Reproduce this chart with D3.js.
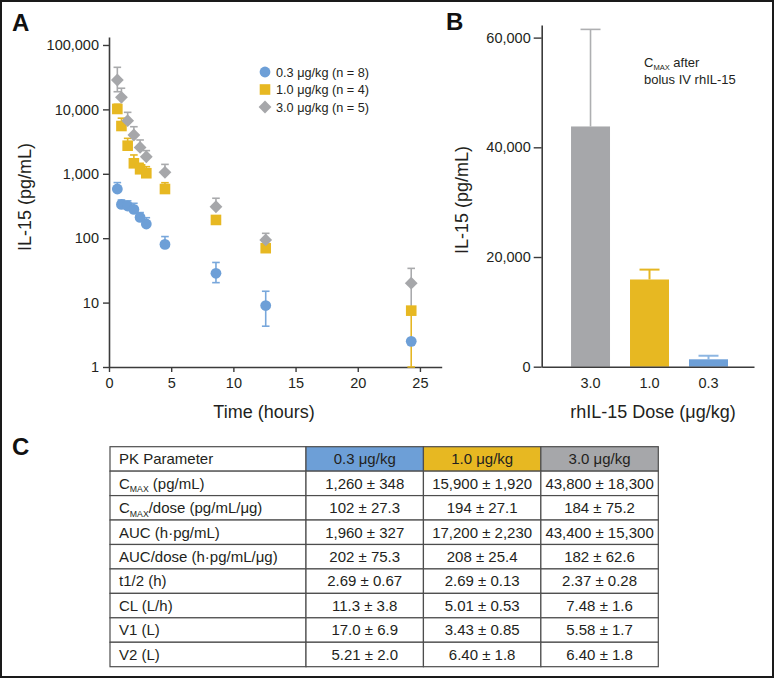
<!DOCTYPE html>
<html><head><meta charset="utf-8">
<script src="https://cdn.jsdelivr.net/npm/d3@7"></script>
<style>
body{margin:0;background:#fff}
svg{display:block;font-family:"Liberation Sans",Arial,Helvetica,sans-serif}
</style>
</head><body>
<svg id="c" width="775" height="680"></svg>
<script>
// ---------- Panel A data ----------
const times = [0.67, 1, 1.5, 2, 2.5, 3, 4.5, 8.6, 12.6, 24.3];
const seriesNames = ["0.3 μg/kg (n = 8)", "1.0 μg/kg (n = 4)", "3.0 μg/kg (n = 5)"];
const mean03 = [580, 335, 316, 280, 210, 166, 80, 28.5, 9, 2.5];
const upper03 = [730, 392, 380, 348, 250, 208, 106, 42, 15, null];
const lower03 = [null, null, null, null, null, null, null, 20.4, 4.3, null];
const mean10 = [10150, 5520, 2730, 1455, 1175, 1020, 580, 192, 70, 7.5];
const upper10 = [12000, 7300, 3550, 1960, 1455, 1290, 727, null, null, null];
const lower10 = [null, null, null, null, null, null, null, null, null, 1];
const mean30 = [28600, 15400, 6680, 4000, 2570, 1840, 1055, 308, 94, 20];
const upper30 = [45000, 21300, 9000, 5380, 3350, 2290, 1400, 417, 119, 34];
const lower30 = [18800, null, null, null, null, null, null, null, null, 8];
const xTicksA = [0, 5, 10, 15, 20, 25];
const yTicksA = [1, 10, 100, 1000, 10000, 100000];

// ---------- Panel B data ----------
const barDoses = ["3.0", "1.0", "0.3"];
const barMeans = [43800, 15900, 1350];
const barErrs = [17700, 1800, 650];
const yTicksB = [0, 20000, 40000, 60000];

// ---------- Panel C data ----------
const tableHeader = ["PK Parameter", "0.3 μg/kg", "1.0 μg/kg", "3.0 μg/kg"];
const params = ["C{MAX} (pg/mL)", "C{MAX}/dose (pg/mL/μg)", "AUC (h·pg/mL)", "AUC/dose (h·pg/mL/μg)", "t1/2 (h)", "CL (L/h)", "V1 (L)", "V2 (L)"];
const col03 = ["1,260 ± 348", "102 ± 27.3", "1,960 ± 327", "202 ± 75.3", "2.69 ± 0.67", "11.3 ± 3.8", "17.0 ± 6.9", "5.21 ± 2.0"];
const col10 = ["15,900 ± 1,920", "194 ± 27.1", "17,200 ± 2,230", "208 ± 25.4", "2.69 ± 0.13", "5.01 ± 0.53", "3.43 ± 0.85", "6.40 ± 1.8"];
const col30 = ["43,800 ± 18,300", "184 ± 75.2", "43,400 ± 15,300", "182 ± 62.6", "2.37 ± 0.28", "7.48 ± 1.6", "5.58 ± 1.7", "6.40 ± 1.8"];

// ---------- styles ----------
const BLUE = "#6d9fd7", YELLOW = "#e7b822", GRAY = "#a6a7aa";
const TXT = "#231f20", AX = "#3b3b3b";

const svg = d3.select("#c");
svg.append("rect").attr("x", 1).attr("y", 1).attr("width", 772).attr("height", 676)
  .attr("fill", "none").attr("stroke", "#1a1a1a").attr("stroke-width", 2);

function letter(t, x, y) {
  svg.append("text").attr("x", x).attr("y", y).text(t)
    .attr("font-size", 24).attr("font-weight", "bold").attr("fill", "#111");
}
letter("A", 12, 31); letter("B", 446, 30); letter("C", 12, 455);

function styleAxis(g) {
  g.select(".domain").attr("stroke", AX).attr("stroke-width", 1.6);
  g.selectAll(".tick line").attr("stroke", AX).attr("stroke-width", 1.4);
  g.selectAll(".tick text").attr("fill", TXT).attr("font-size", 14.5)
    .attr("font-family", '"Liberation Sans",Arial,sans-serif');
}
function withSub(sel, str, base) {
  const parts = str.split(/\{|\}/);
  const shift = base * 0.25;
  parts.forEach((p, i) => {
    if (!p) return;
    if (i % 2 === 1) {
      sel.append("tspan").attr("font-size", base * 0.58).attr("dy", shift).text(p);
    } else {
      const t = sel.append("tspan").text(p);
      if (i > 0) t.attr("dy", -shift);
    }
  });
}

// ---------- Panel A ----------
const xA = d3.scaleLinear().domain([0, 26.75]).range([109, 441.7]);
const yA = d3.scaleLog().domain([1, 133000]).range([367, 37]);

const gxA = svg.append("g").attr("transform", "translate(0,367)")
  .call(d3.axisBottom(xA).tickValues(xTicksA).tickSize(5).tickSizeOuter(0).tickPadding(6));
styleAxis(gxA);
const gyA = svg.append("g").attr("transform", "translate(109,0)")
  .call(d3.axisLeft(yA).tickValues(yTicksA).tickFormat(d3.format(",")).tickSize(6).tickSizeOuter(0).tickPadding(4));
styleAxis(gyA);

svg.append("text").attr("x", 264).attr("y", 418).attr("text-anchor", "middle")
  .attr("font-size", 18).attr("fill", TXT).text("Time (hours)");
svg.append("text").attr("transform", "translate(31,197) rotate(-90)").attr("text-anchor", "middle")
  .attr("font-size", 18).attr("fill", TXT).text("IL-15 (pg/mL)");

const series = [
  {name: seriesNames[1], mean: mean10, up: upper10, lo: lower10, color: YELLOW, err: "#e5b622", shape: "square"},
  {name: seriesNames[2], mean: mean30, up: upper30, lo: lower30, color: GRAY, err: "#a9aaac", shape: "diamond"},
  {name: seriesNames[0], mean: mean03, up: upper03, lo: lower03, color: BLUE, err: "#78a7db", shape: "circle"}
];
const cap = 3.8;
const errG = svg.append("g"), markG = svg.append("g");
function drawMarker(g, shape, x, y, color) {
  if (shape === "circle") g.append("circle").attr("cx", x).attr("cy", y).attr("r", 5.4).attr("fill", color);
  else if (shape === "square") g.append("rect").attr("x", x - 5.3).attr("y", y - 5.3).attr("width", 10.6).attr("height", 10.6).attr("fill", color);
  else g.append("path").attr("d", `M${x},${y - 6.4}L${x + 6.4},${y}L${x},${y + 6.4}L${x - 6.4},${y}Z`).attr("fill", color);
}
series.forEach(s => {
  times.forEach((t, i) => {
    const x = xA(t), y = yA(s.mean[i]);
    [s.up[i], s.lo[i]].forEach(v => {
      if (v == null) return;
      const yy = yA(v);
      errG.append("line").attr("x1", x).attr("x2", x).attr("y1", y).attr("y2", yy)
        .attr("stroke", s.err).attr("stroke-width", 1.6);
      errG.append("line").attr("x1", x - cap).attr("x2", x + cap).attr("y1", yy).attr("y2", yy)
        .attr("stroke", s.err).attr("stroke-width", 1.6);
    });
  });
});
series.forEach(s => {
  times.forEach((t, i) => drawMarker(markG, s.shape, xA(t), yA(s.mean[i]), s.color));
});

// legend
const legY = d3.scalePoint().domain(seriesNames).range([72, 107]);
const legShapes = {[seriesNames[0]]: ["circle", BLUE], [seriesNames[1]]: ["square", YELLOW], [seriesNames[2]]: ["diamond", GRAY]};
seriesNames.forEach(n => {
  drawMarker(svg, legShapes[n][0], 265, legY(n), legShapes[n][1]);
  svg.append("text").attr("x", 276).attr("y", legY(n) + 4.5).attr("font-size", 12.7)
    .attr("fill", TXT).text(n);
});

// ---------- Panel B ----------
const xB = d3.scaleBand().domain(barDoses).range([541.7, 754])
  .paddingInner(0.339).paddingOuter(0.469).align(0.53);
const yB = d3.scaleLinear().domain([0, 62300]).range([366.7, 25]);
const barColors = {"3.0": GRAY, "1.0": YELLOW, "0.3": BLUE};
const barErrColors = {"3.0": "#aeafb1", "1.0": "#e5b622", "0.3": "#8db6e2"};

barDoses.forEach((d, i) => {
  const cx = xB(d) + xB.bandwidth() / 2;
  const top = yB(barMeans[i] + barErrs[i]);
  svg.append("line").attr("x1", cx).attr("x2", cx).attr("y1", yB(barMeans[i])).attr("y2", top)
    .attr("stroke", barErrColors[d]).attr("stroke-width", i === 0 ? 1.6 : 2);
  svg.append("line").attr("x1", cx - 10).attr("x2", cx + 10).attr("y1", top).attr("y2", top)
    .attr("stroke", barErrColors[d]).attr("stroke-width", i === 0 ? 1.6 : 2);
});
svg.append("g").selectAll("rect").data(barDoses).join("rect")
  .attr("x", d => xB(d)).attr("width", xB.bandwidth())
  .attr("y", (d, i) => yB(barMeans[i])).attr("height", (d, i) => yB(0) - yB(barMeans[i]))
  .attr("fill", d => barColors[d]);

const gxB = svg.append("g").attr("transform", "translate(0,366.7)")
  .call(d3.axisBottom(xB).tickSize(0).tickSizeOuter(0).tickPadding(11));
styleAxis(gxB);
const gyB = svg.append("g").attr("transform", "translate(541.7,0)")
  .call(d3.axisLeft(yB).tickValues(yTicksB).tickFormat(d3.format(",")).tickSize(8).tickSizeOuter(0).tickPadding(3));
styleAxis(gyB);

svg.append("text").attr("x", 653).attr("y", 418).attr("text-anchor", "middle")
  .attr("font-size", 18).attr("fill", TXT).text("rhIL-15 Dose (μg/kg)");
svg.append("text").attr("transform", "translate(468,200) rotate(-90)").attr("text-anchor", "middle")
  .attr("font-size", 18).attr("fill", TXT).text("IL-15 (pg/mL)");

const ann = svg.append("text").attr("x", 644).attr("y", 66.5).attr("font-size", 13).attr("fill", TXT);
withSub(ann, "C{MAX} after", 13);
svg.append("text").attr("x", 644).attr("y", 84).attr("font-size", 13).attr("fill", TXT).text("bolus IV rhIL-15");

// ---------- Panel C: table ----------
const rowsAll = ["header"].concat(params);
const yT = d3.scaleBand().domain(d3.range(rowsAll.length)).range([446.7, 666.7]);
const xT = d3.scaleBand().domain([1, 2, 3]).range([306, 658.3]);
const tLeft = 110;
const TFS = 15;
const headerFill = [null, BLUE, YELLOW, GRAY];
const tg = svg.append("g");
const colX0 = c => c === 0 ? tLeft : xT(c);
const colW = c => c === 0 ? 306 - tLeft : xT.bandwidth();
const cols = [null, col03, col10, col30];

rowsAll.forEach((r, ri) => {
  for (let c = 0; c < 4; c++) {
    tg.append("rect").attr("x", colX0(c)).attr("y", yT(ri)).attr("width", colW(c)).attr("height", yT.bandwidth())
      .attr("fill", ri === 0 && headerFill[c] ? headerFill[c] : "#fff")
      .attr("stroke", "#4d4d4d").attr("stroke-width", 1.2);
    const ty = yT(ri) + yT.bandwidth() / 2 + 5.3;
    let txt;
    if (c === 0) {
      txt = tg.append("text").attr("x", tLeft + 9).attr("y", ty).attr("font-size", TFS);
      withSub(txt, ri === 0 ? tableHeader[0] : params[ri - 1], TFS);
    } else {
      txt = tg.append("text").attr("x", colX0(c) + colW(c) / 2).attr("y", ty).attr("text-anchor", "middle")
        .attr("font-size", TFS).text(ri === 0 ? tableHeader[c] : cols[c][ri - 1]);
    }
    txt.attr("fill", TXT);
  }
});
</script>
</body></html>
